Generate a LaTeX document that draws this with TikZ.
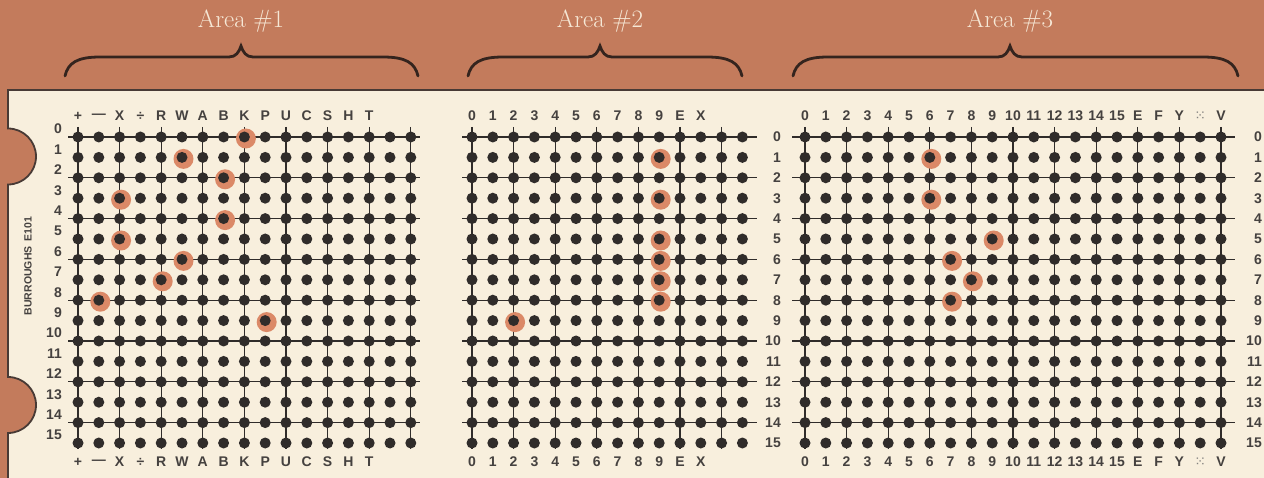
\documentclass[tikz,border=0pt]{standalone}
\usepackage{fontspec}
\newfontfamily\cardfont{Liberation Sans}
\newfontfamily\symfont{DejaVu Sans}
\definecolor{sheetbg}{RGB}{195,123,92}
\definecolor{cardcream}{RGB}{248,239,221}
\definecolor{holeorange}{RGB}{219,137,103}
\definecolor{inkgray}{RGB}{48,44,42}
\definecolor{titlecream}{RGB}{246,232,214}
\definecolor{bracebrown}{RGB}{52,36,30}

\begin{document}
\begin{tikzpicture}[
  x=1pt,y=-1pt,
  pin/.style={circle, fill=inkgray, inner sep=0pt, minimum size=11pt},
  hole/.style={fill=holeorange},
  wire/.style={draw=inkgray, line width=1.3pt},
  collab/.style={font=\cardfont\bfseries\fontsize{14}{15}\selectfont, text=inkgray!90, inner sep=0pt},
  rowlab/.style={font=\cardfont\bfseries\fontsize{14}{15}\selectfont, text=inkgray!90, inner sep=0pt, anchor=east},
  title/.style={font=\fontsize{25}{27}\selectfont, text=titlecream, anchor=base},
  brace/.style={draw=bracebrown, line width=2.8pt, line cap=round},
  cardedge/.style={draw=bracebrown!90, line width=1.8pt}
]
\useasboundingbox (0,0) rectangle (1264,478);
\clip (0,0) rectangle (1264,478);
\fill[sheetbg] (0,0) rectangle (1264,478);

% braces and area titles
\foreach \xa/\xm/\xb/\n in {65/241/418/1, 468/600/742/2, 793/1010/1238/3}{
  \draw[brace] (\xa,76) .. controls (\xa+3,63) and (\xa+12,57) .. (\xa+35,57) -- (\xm-12,57)
    .. controls (\xm-5,57) and (\xm-2,52) .. (\xm,46) .. controls (\xm+2,52) and (\xm+5,57) .. (\xm+12,57)
    -- (\xb-35,57) .. controls (\xb-12,57) and (\xb-3,63) .. (\xb,76);
  \node[title] (area\n) at (\xm,28) {Area \#\n};
}

% the card with its two notches
\fill[cardcream] (1270,90) -- (8,90) -- (8,128.5) arc[start angle=-90, end angle=90, radius=28]
  -- (8,377) arc[start angle=-90, end angle=90, radius=28] -- (8,484) -- (1270,484) -- cycle;
\draw[cardedge] (1270,90) -- (8,90) -- (8,128.5) arc[start angle=-90, end angle=90, radius=28]
  -- (8,377) arc[start angle=-90, end angle=90, radius=28] -- (8,484);

\node[font=\cardfont\bfseries\fontsize{10.5}{11}\selectfont, text=inkgray!90, rotate=90] (maker) at (28,266) {BURROUGHS\hspace{5pt}E101};

% wiring: even rows and even columns
\foreach \ax/\nc/\xl/\xr in {78/16/68/420, 472/13/462/757, 805/20/792/1235}{
  \foreach \r in {0,2,...,14} \draw[wire] (\xl,137+\r*20.4) -- (\xr,137+\r*20.4);
  \foreach \c in {0,2,...,\nc} \draw[wire] (\ax+\c*20.8,127) -- (\ax+\c*20.8,449);
}

% punched holes
\foreach \ax/\c/\r in {78/8/0, 78/5/1, 78/7/2, 78/2/3, 78/7/4, 78/2/5, 78/5/6, 78/4/7, 78/1/8, 78/9/9,
  472/9/1, 472/9/3, 472/9/5, 472/9/6, 472/9/7, 472/9/8, 472/2/9,
  805/6/1, 805/6/3, 805/9/5, 805/7/6, 805/8/7, 805/7/8}
  \fill[hole] (\ax+\c*20.8+1.5,137+\r*20.4+1.5) circle (10);

% pins
\foreach \ax/\nc [count=\a] in {78/16, 472/13, 805/20}{
  \foreach \c in {0,...,\nc}
    \foreach \r in {0,...,15}
      \node[pin] (a\a-\c-\r) at (\ax+\c*20.8,137+\r*20.4) {};
}

% column labels, top and bottom
\foreach \t [count=\i from 0] in {+,—,X,÷,R,W,A,B,K,P,U,C,S,H,T}{
  \node[collab] (top1-\i) at (78+\i*20.8,116) {\t};
  \node[collab] (bot1-\i) at (78+\i*20.8,462) {\t};
}
\foreach \t [count=\i from 0] in {0,1,2,3,4,5,6,7,8,9,E,X}{
  \node[collab] (top2-\i) at (472+\i*20.8,116) {\t};
  \node[collab] (bot2-\i) at (472+\i*20.8,462) {\t};
}
\foreach \t [count=\i from 0] in {0,1,2,3,4,5,6,7,8,9,10,11,12,13,14,15,E,F,Y,{\symfont\mdseries\color{inkgray!60}⁙},V}{
  \node[collab] (top3-\i) at (805+\i*20.8,116) {\t};
  \node[collab] (bot3-\i) at (805+\i*20.8,462) {\t};
}

% row labels
\foreach \r in {0,...,15}{
  \node[rowlab] (row1-\r) at (62,129+\r*20.4) {\r};
  \node[rowlab] (row2-\r) at (781,137+\r*20.4) {\r};
  \node[rowlab] (row3-\r) at (1262,137+\r*20.4) {\r};
}
\end{tikzpicture}
\end{document}
